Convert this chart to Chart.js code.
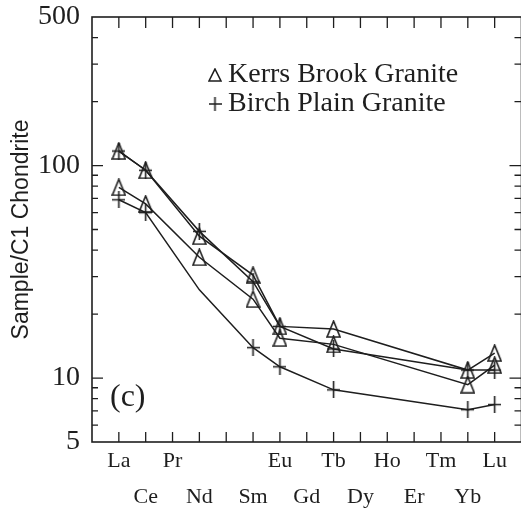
<!DOCTYPE html>
<html>
<head>
<meta charset="utf-8">
<script src="https://cdn.jsdelivr.net/npm/chart.js@4.4.1/dist/chart.umd.min.js"></script>
<style>
  html, body { margin: 0; padding: 0; background: #fff; overflow: hidden; }
  #wrap { width: 521px; height: 512px; overflow: hidden; }
  canvas { display: block; }
</style>
</head>
<body>
<div id="wrap"><canvas id="ree" width="530" height="512"></canvas></div>
<script>
// REE slots along the x axis (Pm is an empty slot, no label)
const elements = ['La', 'Ce', 'Pr', 'Nd', 'Pm', 'Sm', 'Eu', 'Gd', 'Tb', 'Dy', 'Ho', 'Er', 'Tm', 'Yb', 'Lu'];
const topRow = ['La', 'Pr', 'Eu', 'Tb', 'Ho', 'Tm', 'Lu'];
const bottomRow = ['Ce', 'Nd', 'Sm', 'Gd', 'Dy', 'Er', 'Yb'];
const analysed = ['La', 'Ce', 'Nd', 'Sm', 'Eu', 'Tb', 'Yb', 'Lu'];

// sample/C1 chondrite
const kerrsA = [117, 95, 46.5, 30.5, 17.5, 17.0, 10.9, 13.1];
const kerrsB = [79, 66, 37, 23.5, 15.4, 14.4, 9.3, 11.5];
const birchA = [117, 95, 49, 28.4, 17.5, 13.7, 10.9, 10.9];
const birchB = [69, 60, 26, 13.9, 11.3, 8.8, 7.1, 7.5];
const birchBUnmarked = ['Nd'];

const yTicks = [5, 6, 7, 8, 9, 10, 20, 30, 40, 50, 60, 70, 80, 90, 100, 200, 300, 400, 500];
const yLabels = [5, 10, 100, 500];
const legendLabels = ['Kerrs Brook Granite', 'Birch Plain Granite'];
const panelLabel = '(c)';

const INK = '#1e1e1e';
const SERIF = '"Liberation Serif", "Times New Roman", serif';
const SANS = '"Liberation Sans", Arial, sans-serif';

// hollow markers as small canvases (tall triangle / tall cross like the scan)
function makeMarker(kind, w, h) {
  const c = document.createElement('canvas');
  c.width = w; c.height = h;
  const g = c.getContext('2d');
  g.strokeStyle = INK;
  g.lineWidth = 1.6;
  g.beginPath();
  if (kind === 'tri') {
    g.moveTo(w / 2, 1);
    g.lineTo(w - 1, h - 1);
    g.lineTo(1, h - 1);
    g.closePath();
  } else {
    g.moveTo(w / 2, 0); g.lineTo(w / 2, h);
    g.moveTo(0, h / 2); g.lineTo(w, h / 2);
  }
  g.stroke();
  return c;
}
const triMark = makeMarker('tri', 15, 18);
const crossMark = makeMarker('cross', 13, 17);
const keyMarks = [makeMarker('tri', 14, 14), makeMarker('cross', 13, 14)];

function series(label, values, marker, unmarked) {
  return {
    label,
    data: analysed.map((el, i) => ({ x: elements.indexOf(el), y: values[i] })),
    borderColor: INK,
    borderWidth: 1.5,
    tension: 0,
    fill: false,
    pointStyle: marker,
    pointRadius: c => (unmarked && unmarked.includes(analysed[c.dataIndex])) ? 0 : 7
  };
}

// frame + inward tick marks on all four sides
const frameTicks = {
  id: 'frameTicks',
  afterDatasetsDraw(chart) {
    const { ctx, chartArea: a, scales: { x, y } } = chart;
    ctx.save();
    ctx.strokeStyle = INK;
    ctx.lineWidth = 1.6;
    ctx.strokeRect(a.left, a.top, a.right - a.left, a.bottom - a.top);
    ctx.lineWidth = 1.3;
    ctx.beginPath();
    elements.forEach((el, i) => {
      const px = x.getPixelForValue(i);
      ctx.moveTo(px, a.bottom); ctx.lineTo(px, a.bottom - 10);
      ctx.moveTo(px, a.top); ctx.lineTo(px, a.top + 11);
    });
    yTicks.forEach(v => {
      if (v === y.min || v === y.max) return;
      const py = y.getPixelForValue(v);
      const len = Number.isInteger(Math.log10(v)) ? 11 : 6;
      ctx.moveTo(a.left, py); ctx.lineTo(a.left + len, py);
      ctx.moveTo(a.right, py); ctx.lineTo(a.right - len - 1, py);
    });
    ctx.stroke();
    ctx.restore();
  }
};

// legend inside the plot + panel letter
const keyAndPanel = {
  id: 'keyAndPanel',
  afterDraw(chart) {
    const { ctx, chartArea: a } = chart;
    ctx.save();
    ctx.fillStyle = INK;
    ctx.textBaseline = 'middle';
    ctx.font = '28px ' + SERIF;
    legendLabels.forEach((t, i) => {
      const yy = a.top + 58 + i * 29;
      const m = keyMarks[i];
      ctx.drawImage(m, 215 - m.width / 2, yy - m.height / 2);
      ctx.fillText(t, 228, yy);
    });
    ctx.font = '32px ' + SERIF;
    ctx.fillText(panelLabel, a.left + 18, a.bottom - 44);
    ctx.restore();
  }
};

new Chart(document.getElementById('ree'), {
  type: 'line',
  data: {
    datasets: [
      series('Kerrs Brook Granite', kerrsA, triMark),
      series('Birch Plain Granite', birchA, crossMark),
      series('Kerrs Brook Granite', kerrsB, triMark),
      series('Birch Plain Granite', birchB, crossMark, birchBUnmarked)
    ]
  },
  options: {
    responsive: false,
    animation: false,
    devicePixelRatio: 1,
    layout: { padding: { top: 17, right: 5, bottom: 0, left: 0 } },
    plugins: { legend: { display: false }, tooltip: { enabled: false } },
    scales: {
      x: {
        type: 'linear', min: -1, max: elements.length,
        afterBuildTicks: s => { s.ticks = elements.map((e, i) => ({ value: i })); },
        afterFit: s => { s.height = 70; s.paddingLeft = 0; s.paddingRight = 0; },
        grid: { display: false, drawTicks: false },
        border: { display: false },
        ticks: {
          autoSkip: false, maxRotation: 0, padding: 2, color: INK,
          font: { family: SERIF, size: 22, lineHeight: 1.6 },
          callback: v => {
            const el = elements[v];
            if (topRow.includes(el)) return [el];
            if (bottomRow.includes(el)) return ['', el];
            return '';
          }
        }
      },
      y: {
        type: 'logarithmic', min: 5, max: 500,
        afterBuildTicks: s => { s.ticks = yTicks.map(v => ({ value: v })); },
        afterFit: s => { s.width = 92; s.paddingTop = 0; s.paddingBottom = 0; },
        grid: { display: false, drawTicks: false },
        border: { display: false },
        ticks: {
          autoSkip: false, padding: 12, color: INK,
          font: { family: SERIF, size: 28 },
          callback: v => yLabels.includes(v) ? String(v) : ''
        },
        title: {
          display: true, text: 'Sample/C1 Chondrite', color: INK,
          font: { family: SANS, size: 23 }, padding: { top: 8 }
        }
      }
    }
  },
  plugins: [frameTicks, keyAndPanel]
});
</script>
</body>
</html>
